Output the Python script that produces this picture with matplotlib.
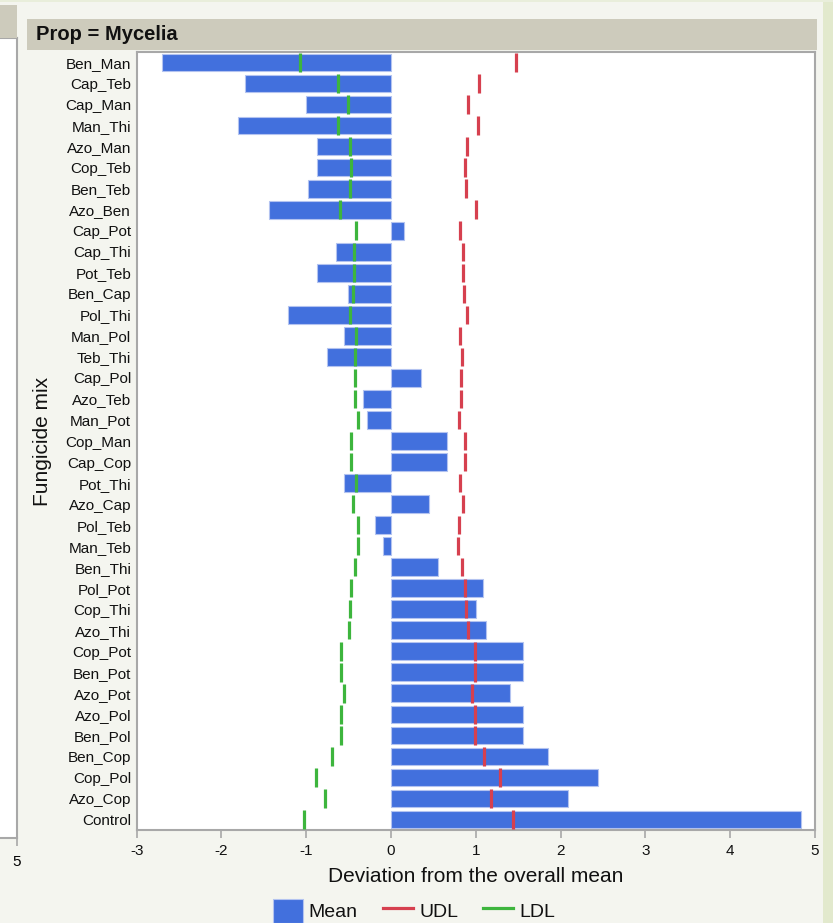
import matplotlib
matplotlib.use("Agg")
import matplotlib.pyplot as plt
from matplotlib.patches import Rectangle, Patch
from matplotlib.lines import Line2D
import numpy as np

plt.rcParams['font.family'] = ['Liberation Sans', 'DejaVu Sans']

# Fungicide mixes, top to bottom
categories = ["Ben_Man", "Cap_Teb", "Cap_Man", "Man_Thi", "Azo_Man", "Cop_Teb",
              "Ben_Teb", "Azo_Ben", "Cap_Pot", "Cap_Thi", "Pot_Teb", "Ben_Cap",
              "Pol_Thi", "Man_Pol", "Teb_Thi", "Cap_Pol", "Azo_Teb", "Man_Pot",
              "Cop_Man", "Cap_Cop", "Pot_Thi", "Azo_Cap", "Pol_Teb", "Man_Teb",
              "Ben_Thi", "Pol_Pot", "Cop_Thi", "Azo_Thi", "Cop_Pot", "Ben_Pot",
              "Azo_Pot", "Azo_Pol", "Ben_Pol", "Ben_Cop", "Cop_Pol", "Azo_Cop",
              "Control"]

# Deviation of each mix mean from the overall mean
means = [-2.70, -1.72, -1.00, -1.81, -0.87, -0.87, -0.98, -1.44, 0.15, -0.65,
         -0.87, -0.51, -1.21, -0.56, -0.76, 0.35, -0.335, -0.28, 0.665, 0.665,
         -0.56, 0.445, -0.185, -0.095, 0.55, 1.08, 1.00, 1.125, 1.557, 1.557,
         1.40, 1.557, 1.557, 1.853, 2.44, 2.085, 4.84]

# Upper and lower decision limits
udl = [1.47, 1.04, 0.91, 1.03, 0.89, 0.87, 0.88, 1.00, 0.81, 0.85, 0.85, 0.86,
       0.90, 0.81, 0.835, 0.82, 0.82, 0.80, 0.87, 0.87, 0.81, 0.85, 0.80, 0.795,
       0.84, 0.877, 0.885, 0.905, 0.995, 0.995, 0.956, 0.995, 0.995, 1.10, 1.29,
       1.18, 1.436]

ldl = [-1.07, -0.63, -0.51, -0.63, -0.49, -0.47, -0.48, -0.60, -0.41, -0.44,
       -0.44, -0.45, -0.49, -0.41, -0.43, -0.42, -0.42, -0.39, -0.47, -0.47,
       -0.41, -0.45, -0.39, -0.39, -0.43, -0.47, -0.48, -0.50, -0.595, -0.595,
       -0.555, -0.595, -0.595, -0.70, -0.89, -0.78, -1.03]

x_ticks = [-3, -2, -1, 0, 1, 2, 3, 4, 5]

W, H = 833, 923
BG = '#f4f5ef'
HEADER = '#cdcbbc'
SPINE = '#a8a8a8'
BLUE = '#4270dd'
RED = '#d6404f'
GREEN = '#3db53d'

fig = plt.figure(figsize=(W / 100, H / 100), dpi=100, facecolor=BG)


def fx(px):
    return px / W


def fy(py):
    return 1 - py / H


# window edges
fig.patches.append(Rectangle((fx(823), 0), fx(10), 1, transform=fig.transFigure,
                             facecolor='#e2e9cd', edgecolor='none', zorder=0))
fig.patches.append(Rectangle((0, fy(2)), 1, 2 / H, transform=fig.transFigure,
                             facecolor='#e9eedb', edgecolor='none', zorder=0))

# neighbouring panel stub on the left
fig.patches.append(Rectangle((0, fy(38)), fx(17), 33 / H, transform=fig.transFigure,
                             facecolor=HEADER, edgecolor='none', zorder=0))
stub = fig.add_axes([fx(-60), fy(838), fx(77), (838 - 38) / H])
stub.set_facecolor('white')
stub.set_xlim(0, 5)
stub.set_xticks([5])
stub.set_yticks([])
stub.spines['left'].set_visible(False)
for s in ['right', 'top', 'bottom']:
    stub.spines[s].set_color(SPINE)
    stub.spines[s].set_linewidth(1.5)
stub.tick_params(axis='x', length=6, width=1.2, color=SPINE, labelsize=11, pad=6)

# panel header
fig.patches.append(Rectangle((fx(27), fy(50)), fx(790), 31 / H, transform=fig.transFigure,
                             facecolor=HEADER, edgecolor='none', zorder=0))
fig.text(fx(36), fy(35), "Prop = Mycelia", fontsize=14.5, fontweight='bold',
         color='#111111', ha='left', va='center')

ax = fig.add_axes([fx(136.7), fy(830), fx(815 - 136.7), (830 - 52) / H])
ax.set_facecolor('white')

y = np.arange(len(categories))
ax.barh(y, means, height=0.84, color=BLUE, edgecolor='#b3c3f0', linewidth=0.8, zorder=2)
ax.vlines(ldl, y - 0.44, y + 0.44, color=GREEN, linewidth=2.3, zorder=3)
ax.vlines(udl, y - 0.44, y + 0.44, color=RED, linewidth=2.3, zorder=3)

ax.set_xlim(-3, 5)
ax.set_ylim(len(categories) - 0.5, -0.5)
ax.set_xticks(x_ticks)
ax.set_xticklabels([str(t) for t in x_ticks])
ax.set_yticks(y)
ax.set_yticklabels(categories)

for s in ax.spines.values():
    s.set_color(SPINE)
    s.set_linewidth(1.5)

ax.tick_params(axis='y', length=0, pad=4, labelsize=11, labelcolor='#111111')
ax.tick_params(axis='x', length=6, width=1.2, color=SPINE, pad=4, labelsize=11,
               labelcolor='#111111')

ax.set_xlabel("Deviation from the overall mean", fontsize=15, color='#111111')
ax.xaxis.set_label_coords(0.5, (830 - 877) / 778)
ax.xaxis.label.set_va('center')
ax.set_ylabel("Fungicide mix", fontsize=15, color='#111111')
ax.yaxis.set_label_coords((43 - 136.7) / 678.3, 0.5)
ax.yaxis.label.set_va('center')

handles = [Patch(facecolor=BLUE, edgecolor='#b3c3f0', linewidth=0.8),
           Line2D([0], [0], color=RED, linewidth=2.3),
           Line2D([0], [0], color=GREEN, linewidth=2.3)]
fig.legend(handles, ["Mean", "UDL", "LDL"], ncol=3, frameon=False, fontsize=14,
           loc='center', bbox_to_anchor=(fx(414), fy(911)),
           handlelength=1.55, handleheight=1.55, handletextpad=0.3,
           columnspacing=1.3, borderpad=0, labelcolor='#111111')

fig.savefig("out.png", dpi=100, facecolor=BG)
